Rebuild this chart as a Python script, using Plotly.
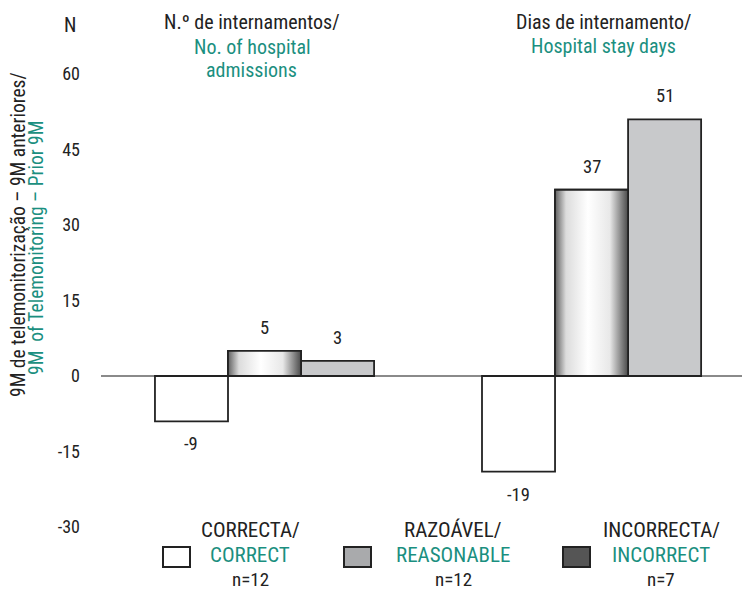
import plotly.graph_objects as go

# ---- data ----
groups = ["N.º de internamentos", "Dias de internamento"]
correcta = [-9, -19]
incorrecta = [5, 37]
razoavel = [3, 51]
y_ticks = [-30, -15, 0, 15, 30, 45, 60]
y_tick_labels = [str(v) for v in y_ticks]

TEAL = "#1b8f80"
INK = "#222222"
FONT = "Liberation Sans Narrow, Arial Narrow, Roboto Condensed, DejaVu Sans Condensed, sans-serif"

W, H = 742, 591
L, R, T, B = 101, 0, 74, 64
PW, PH = W - L - R, H - T - B

BARGAP = 0.33
bw = (1 - BARGAP) / 3
xpos = list(range(len(groups)))


def px(xp):
    return (xp - L) / PW


def py(yp):
    return (H - B - yp) / PH


fig = go.Figure()
line = dict(color=INK, width=1.8)
fig.add_bar(x=xpos, y=correcta, name="CORRECTA", marker=dict(color="white", line=line))
fig.add_bar(x=xpos, y=incorrecta, name="INCORRECTA", marker=dict(color="rgba(0,0,0,0)", line=line))
fig.add_bar(x=xpos, y=razoavel, name="RAZOÁVEL", marker=dict(color="#c8c9cb", line=line))

# gradient fill for the INCORRECTA bars (middle bar of each group)
for i, v in zip(xpos, incorrecta):
    x0, x1 = i - bw / 2, i + bw / 2
    fig.add_scatter(
        x=[x0, x0, x1, x1, x0], y=[0, v, v, 0, 0], mode="lines", fill="toself",
        line=dict(color=INK, width=1.8),
        fillgradient=dict(type="horizontal",
                          colorscale=[[0, "#606060"], [0.15, "#dcdcdc"], [0.45, "#ffffff"],
                                      [0.75, "#e8e8e8"], [1, "#4a4a4a"]]),
        hoverinfo="skip", showlegend=False,
    )

annotations = []
# value labels
for k, series in enumerate([correcta, incorrecta, razoavel]):
    for i, v in zip(xpos, series):
        annotations.append(dict(
            x=i + (k - 1) * bw, y=v, xref="x", yref="y", text=str(v), showarrow=False,
            yshift=23 if v > 0 else -23, font=dict(size=18.5, color=INK),
            xanchor="center", yanchor="middle"))


def ann(text, xp, yp, size=20, color=INK, angle=0):
    annotations.append(dict(
        x=px(xp), y=py(yp), xref="paper", yref="paper", text=text, showarrow=False,
        font=dict(size=size, color=color), xanchor="center", yanchor="middle",
        textangle=angle))


ann("N.º de internamentos/", 252, 22)
ann("No. of hospital", 252, 47, color=TEAL)
ann("admissions", 251, 70, color=TEAL)
ann("Dias de internamento/", 603, 22)
ann("Hospital stay days", 603, 46, color=TEAL)
ann("N", 70, 25)
ann("9M de telemonitorização – 9M anteriores/", 18, 235, size=19.5, angle=-90)
ann("9M\u00a0 of Telemonitoring – Prior 9M", 37, 248, size=19.5, color=TEAL, angle=-90)

# legend
legend_items = [
    ("CORRECTA/", "CORRECT", "n=12", 250, 163, "white"),
    ("RAZOÁVEL/", "REASONABLE", "n=12", 453, 344, "#a9aaac"),
    ("INCORRECTA/", "INCORRECT", "n=7", 661, 563, "#555555"),
]
shapes = []
for pt, en, n, cx, bx, col in legend_items:
    ann(pt, cx, 530, size=21)
    ann(en, cx, 555, size=21, color=TEAL)
    ann(n, cx, 579.5, size=19)
    shapes.append(dict(type="rect", xref="paper", yref="paper",
                       x0=px(bx), x1=px(bx + 27), y0=py(547), y1=py(567),
                       fillcolor=col, line=dict(color=INK, width=2)))

fig.update_layout(
    width=W, height=H, margin=dict(l=L, r=R, t=T, b=B),
    paper_bgcolor="white", plot_bgcolor="white",
    font=dict(family=FONT, size=18, color=INK),
    barmode="group", bargap=BARGAP, bargroupgap=0,
    showlegend=False, annotations=annotations, shapes=shapes,
    xaxis=dict(range=[-0.5, 1.46], showticklabels=False, showgrid=False,
               zeroline=False, showline=False, fixedrange=True),
    yaxis=dict(range=[-30, 60], tickvals=y_ticks, ticktext=y_tick_labels,
               showgrid=False, showline=False,
               zeroline=True, zerolinecolor="#8a8a8a", zerolinewidth=1.5,
               ticklabelstandoff=20, tickfont=dict(size=18, color=INK)),
)

fig.write_html("out.html", config={"displayModeBar": False},
               post_script="document.body.style.margin='0';document.body.style.overflow='hidden';")
